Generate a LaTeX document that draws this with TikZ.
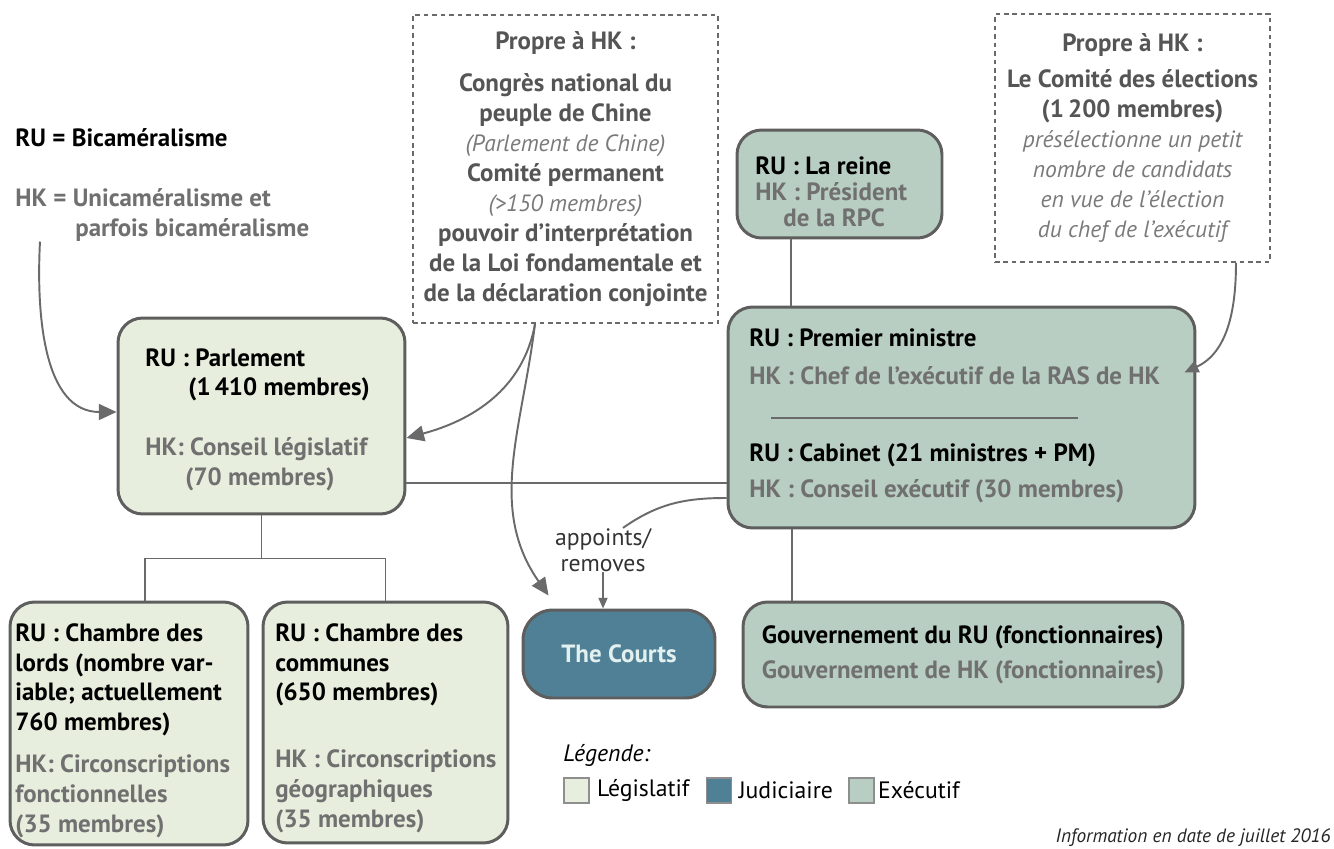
\documentclass[tikz,border=0pt]{standalone}
\usepackage{fontspec}
\setmainfont{PT Sans}
\usetikzlibrary{calc,arrows.meta,positioning}
\definecolor{legisfill}{HTML}{E8EEDD}
\definecolor{execfill}{HTML}{B8CEC2}
\definecolor{judicfill}{HTML}{4F8096}
\definecolor{courtstext}{HTML}{E2F0F0}
\definecolor{boxline}{HTML}{5E5E5E}
\definecolor{linegray}{HTML}{6A6A6A}
\definecolor{hkgray}{HTML}{707070}
\definecolor{notegray}{HTML}{555555}
\definecolor{italgray}{HTML}{7A7A7A}
\newcommand{\hk}[1]{{\color{hkgray}#1}}
\newcommand{\lighttext}[1]{{\fontsize{13.4}{17}\selectfont\mdseries\itshape\color{italgray}#1}}

\begin{document}
\begin{tikzpicture}[x=0.02cm,y=-0.02cm,
  bold/.style={font=\fontsize{14.2}{17}\selectfont\bfseries},
  txt/.style={bold, inner sep=0pt, align=left, anchor=north west},
  plaintxt/.style={font=\fontsize{13.5}{17}\selectfont, inner sep=0pt},
  orgbox/.style={draw=boxline, line width=1.7pt, rounded corners=14pt, inner sep=0pt},
  legisbox/.style={orgbox, fill=legisfill},
  execbox/.style={orgbox, fill=execfill},
  notebox/.style={bold, draw=linegray, line width=0.9pt, dash pattern=on 2.6pt off 2.2pt,
    align=center, text=notegray, inner sep=0pt},
  conn/.style={draw=linegray, line width=1.1pt},
  arr/.style={conn, -{Triangle[length=10pt,width=9pt]}},
  legsq/.style={draw=boxline!70, line width=0.9pt, minimum size=0.5cm, inner sep=0pt},
  ]
\path[use as bounding box, fill=white] (0,0) rectangle (1334,848);

% boxes
\node[legisbox, minimum width=5.74cm, minimum height=3.92cm] (parl) at (261.5,416) {};
\node[legisbox, minimum width=4.76cm, minimum height=4.86cm] (lords) at (129,723.5) {};
\node[legisbox, minimum width=4.9cm, minimum height=4.82cm] (communes) at (385.5,722.5) {};
\node[execbox, minimum width=4.1cm, minimum height=2.16cm] (reine) at (839.5,184) {};
\node[execbox, minimum width=9.34cm, minimum height=4.42cm] (pm) at (961.5,417.5) {};
\node[execbox, bold, align=left, minimum width=8.8cm, minimum height=2.1cm] (gouv) at (963,654.5)
  {Gouvernement du RU (fonctionnaires)\\[3pt] \hk{Gouvernement de HK (fonctionnaires)}};
\node[orgbox, bold, fill=judicfill, text=courtstext, rounded corners=17pt,
  minimum width=3.84cm, minimum height=1.76cm] (courts) at (619,654) {The Courts};

% dotted notes
\node[notebox, minimum width=6.1cm, minimum height=6.16cm] (congres) at (565.5,169)
  {Propre à HK :\\[7pt] Congrès national du\\ peuple de Chine\\ \lighttext{(Parlement de Chine)}\\
   Comité permanent\\ \lighttext{(>150 membres)}\\ pouvoir d’interprétation\\
   de la Loi fondamentale et\\ de la déclaration conjointe};
\node[notebox, minimum width=5.5cm, minimum height=4.96cm] (comite) at (1132.5,138)
  {Propre à HK :\\[3.4pt] Le Comité des élections\\ (1\,200 membres)\\
   \lighttext{présélectionne un petit}\\ \lighttext{nombre de candidats}\\
   \lighttext{en vue de l’élection}\\ \lighttext{du chef de l’exécutif}};

% texts
\node[txt] (bicam) at (15,128) {RU = Bicaméralisme};
\node[txt, text=hkgray] (unicam) at (15,188) {HK = Unicaméralisme et\\ \hspace*{1.2cm}parfois bicaméralisme};
\node[txt] (parltxt) at (145,348) {RU : Parlement\\ \hspace*{0.86cm}(1\,410 membres)\\[17pt]
  \hk{HK: Conseil législatif}\\ \hk{\hspace*{0.8cm}(70 membres)}};
\node[txt] (lordstxt) at (15,623) {RU : Chambre des\\ lords (nombre var-\\ iable; actuellement\\
  760 membres)\\[7pt] \hk{HK: Circonscriptions}\\ \hk{fonctionnelles}\\ \hk{(35 membres)}};
\node[txt] (communestxt) at (275,623) {RU : Chambre des\\ communes\\ (650 membres)\\[21pt]
  \hk{HK : Circonscriptions}\\ \hk{géographiques}\\ \hk{(35 membres)}};
\node[txt] (reinetxt) at (755,156) {RU : La reine\\[-2pt] \hk{HK : Président}\\[-2pt]
  \hk{\hspace*{0.56cm}de la RPC}};
\node[txt] (pmtxt) at (749,328) {RU : Premier ministre\\[4.6pt] \hk{HK : Chef de l’exécutif de la RAS de HK}\\[26.8pt]
  RU : Cabinet (21 ministres + PM)\\[3.5pt] \hk{HK : Conseil exécutif (30 membres)}};
\draw[conn, line width=0.8pt] (771,418) -- (1078,418);
\node[plaintxt, align=center, text=black!80] (appt) at (603,550) {appoints/\\[-2pt] removes};

% connectors
\draw[conn] ([yshift=-1.34cm]parl.east) -- ([yshift=-1.34cm]parl.east -| pm.west);
\draw[conn] ([xshift=-0.97cm]reine.south) -- ([xshift=-0.97cm]reine.south |- pm.north);
\draw[conn] ([xshift=-3.39cm]pm.south) -- ([xshift=-3.39cm]pm.south |- gouv.north);
\draw[conn] (parl.south) -- ++(0,43) coordinate (fork);
\draw[conn] ([xshift=0.32cm]lords.north) |- (fork) -| (communes.north);
\draw[arr] ([xshift=0.5cm]unicam.south west) to[out=-93,in=180] ([yshift=0.08cm]parl.west);
\draw[arr] ([xshift=-0.61cm]congres.south) to[out=-100,in=15] ([yshift=-0.44cm]parl.east);
\draw[arr] ([xshift=-0.61cm]congres.south) to[out=-97,in=125] ($(courts.north west)+(27,-13)$);
\draw[conn, -{Triangle[length=8pt,width=7pt]}] ([xshift=2.07cm]comite.south)
  to[out=-90,in=25] ($(pm.east)+(-12,-45)$);
\draw[conn] ([yshift=-1.61cm]pm.west) to[out=180,in=35] ([xshift=0.4cm]appt.north);
\draw[conn, -{Triangle[length=6pt,width=5pt]}] (appt.south) -- (appt.south |- courts.north);

% legend
\node[plaintxt, font=\fontsize{13.5}{17}\selectfont\itshape, anchor=west] (legende) at (563,755) {Légende:};
\node[legsq, fill=legisfill] (sqlegis) at (576.5,790.5) {};
\node[plaintxt, right=0.14cm of sqlegis] (lablegis) {Législatif};
\node[legsq, fill=judicfill, right=0.32cm of lablegis] (sqjudic) {};
\node[plaintxt, right=0.12cm of sqjudic] (labjudic) {Judiciaire};
\node[legsq, fill=execfill, right=0.3cm of labjudic] (sqexec) {};
\node[plaintxt, right=0.06cm of sqexec] (labexec) {Exécutif};
\node[plaintxt, font=\fontsize{11}{13}\selectfont\itshape, anchor=east, text=black!85] (info)
  at (1331,838) {Information en date de juillet 2016};
\end{tikzpicture}
\end{document}
